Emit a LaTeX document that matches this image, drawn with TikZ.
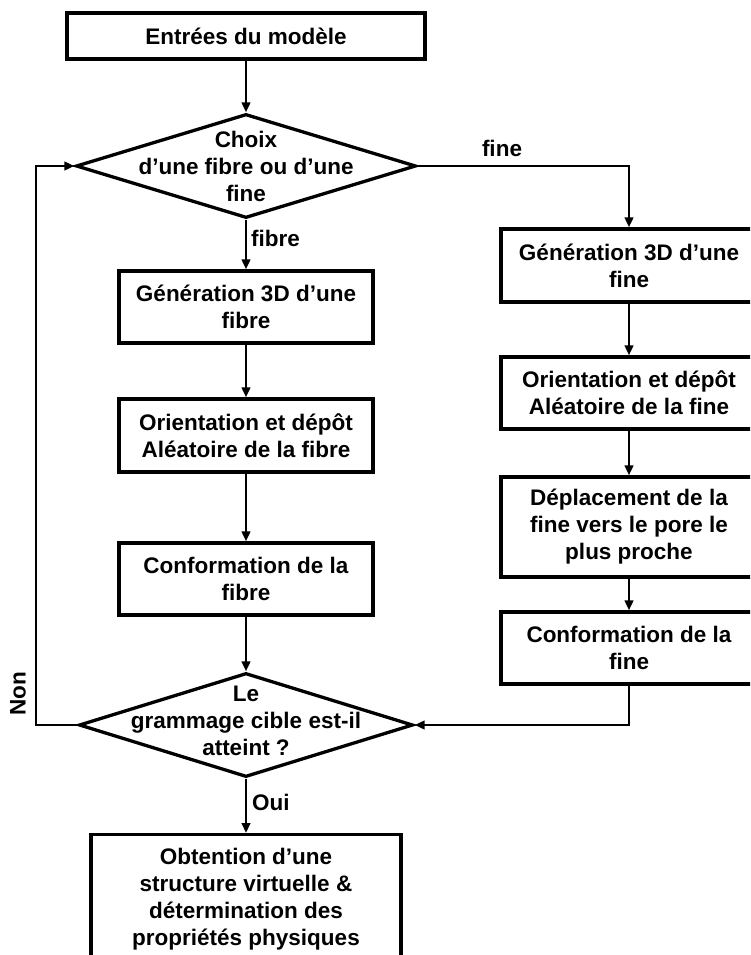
\documentclass[tikz,border=0pt]{standalone}
\usepackage{fontspec}
\setmainfont{Liberation Sans}
\usetikzlibrary{arrows.meta,shapes.geometric}
\begin{document}
\begin{tikzpicture}[x=1pt,y=-1pt,
  txtfont/.style={font=\bfseries\fontsize{22.5}{27}\selectfont},
  box/.style={draw, line width=3.3pt, rectangle, inner sep=0pt, align=center, txtfont},
  dia/.style={draw, line width=3.3pt, diamond, inner sep=0pt},
  diatxt/.style={align=center, inner sep=0pt, txtfont},
  lbl/.style={inner sep=0pt, txtfont},
  arr/.style={line width=2.8pt, -{Triangle[length=10pt,width=8.5pt]}},
  ln/.style={line width=2.8pt}
]
\clip (0,0) rectangle (750,955);
\fill[white] (0,0) rectangle (750,955);

% left column
\node[box, minimum width=358, minimum height=46] (top) at (246,36) {Entrées du modèle};
\node[dia, minimum width=340, minimum height=104] (d1) at (246,166) {};
\node[diatxt] (d1t) at (246,166) {Choix\\d’une fibre ou d’une\\fine};
\node[box, minimum width=254, minimum height=72] (gfib) at (246,307) {Génération 3D d’une\\fibre};
\node[box, minimum width=254, minimum height=73] (ofib) at (246,435.5) {Orientation et dépôt\\Aléatoire de la fibre};
\node[box, minimum width=254, minimum height=72] (cfib) at (246,579) {Conformation de la\\fibre};
\node[dia, minimum width=334, minimum height=104] (d2) at (246,725) {};
\node[diatxt] (d2t) at (246,721) {Le\\grammage cible est-il\\atteint ?};
\node[box, minimum width=310, minimum height=130, anchor=north] (res) at (246,833)
  {Obtention d’une\\structure virtuelle \&\\détermination des\\propriétés physiques};

% right column
\node[box, minimum width=256, minimum height=73] (gfine) at (629,265.5) {Génération 3D d’une\\fine};
\node[box, minimum width=256, minimum height=72] (ofine) at (629,393) {Orientation et dépôt\\Aléatoire de la fine};
\node[box, minimum width=256, minimum height=100] (dfine) at (629,527) {Déplacement de la\\fine vers le pore le\\plus proche};
\node[box, minimum width=256, minimum height=72] (cfine) at (629,648) {Conformation de la\\fine};

% labels
\node[lbl, anchor=west] (lfibre) at (251,238) {fibre};
\node[lbl] (lfine) at (502,148) {fine};
\node[lbl, anchor=west] (loui) at (252,802) {Oui};
\node[lbl, rotate=90] (lnon) at (18,694) {Non};

% connectors
\coordinate (lp) at (36,725);
\draw[arr] (top.south) -- (d1.north);
\draw[arr] (d1.south) -- (gfib.north);
\draw[arr] (gfib.south) -- (ofib.north);
\draw[arr] (ofib.south) -- (cfib.north);
\draw[arr] (cfib.south) -- (d2.north);
\draw[arr] (d2.south) -- (res.north);
\draw[arr] (d1.east) -| (gfine.north);
\draw[arr] (gfine.south) -- (ofine.north);
\draw[arr] (ofine.south) -- (dfine.north);
\draw[arr] (dfine.south) -- (cfine.north);
\draw[arr] (cfine.south) |- (d2.east);
\draw[arr] (d2.west) -- (d2.west -| lp) |- (d1.west);
\end{tikzpicture}
\end{document}
